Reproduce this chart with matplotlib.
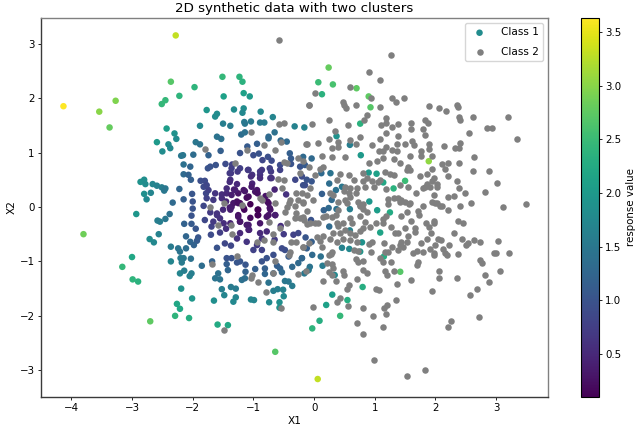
import matplotlib
matplotlib.use("Agg")
import matplotlib.pyplot as plt

class1_points = [
(-1.32,1.79,1.8),(-2.28,3.15,3.3),(-4.13,1.85,3.63),(-3.54,1.75,3.0),(-3.27,1.95,2.95),(-3.37,1.46,2.8),(-2.36,2.30,2.7),(-1.51,2.39,2.45),
(-1.23,2.39,2.4),(-1.18,2.30,2.35),(-1.97,2.20,2.4),(-2.22,2.04,2.4),(-2.45,1.96,2.45),(-2.51,1.89,2.45),(-1.49,2.03,2.1),
(-1.16,2.09,2.1),(-1.06,2.03,2.0),(-1.77,1.78,1.95),(-1.16,1.81,1.8),(-1.18,1.73,1.75),(-0.88,1.75,1.75),
(-1.60,1.71,1.8),(-1.63,1.66,1.8),(-0.68,1.65,1.7),(-1.88,1.49,1.75),(-1.50,1.53,1.6),(-1.38,1.49,1.55),(-1.15,1.56,1.55),
(-1.14,1.53,1.5),(-1.04,1.57,1.55),(-0.89,1.55,1.55),(-0.82,1.55,1.55),(-0.32,1.48,1.65),(-0.16,1.46,1.65),(-2.43,1.44,2.05),
(-2.30,1.35,1.9),(-2.27,1.25,1.8),(-2.59,1.19,2.0),(-2.40,1.15,1.8),(-2.37,1.08,1.75),(-2.50,1.02,1.8),(-1.95,1.19,1.5),
(-1.88,1.15,1.45),(-1.60,1.29,1.45),(-1.53,1.25,1.4),(-1.20,1.33,1.35),(-1.14,1.37,1.4),(-0.65,1.37,1.4),(-0.75,1.29,1.3),
(-0.75,1.26,1.3),(-0.94,1.16,1.15),(-0.55,1.22,1.3),(-0.45,1.20,1.3),(-1.10,1.11,1.1),(-1.22,0.99,1.0),(-1.54,1.03,1.15),
(-2.16,0.95,1.5),(-2.19,0.94,1.5),(-1.99,0.96,1.35),(-1.74,0.95,1.2),(-1.0,0.95,0.95),(-0.91,0.98,1.0),(-0.85,0.86,0.85),
(-0.76,0.92,0.95),(-0.70,0.85,0.9),(-0.40,0.985,1.15),(-0.38,0.89,1.1),(-0.56,0.77,0.9),(-0.38,0.79,1.0),(-2.15,0.78,1.4),
(-2.04,0.74,1.25),(-2.15,0.60,1.3),(-2.07,0.59,1.2),(-2.03,0.50,1.15),(-1.71,0.74,1.0),(-1.75,0.71,1.0),(-1.62,0.77,1.0),
(-1.46,0.79,0.9),(-1.35,0.78,0.8),(-1.22,0.71,0.75),(-1.26,0.65,0.7),(-1.37,0.62,0.7),(-1.09,0.68,0.7),(-1.02,0.59,0.6),
(-0.86,0.68,0.7),(-0.89,0.59,0.6),(-0.71,0.65,0.7),(-0.56,0.68,0.8),(-1.38,0.50,0.6),(-1.87,0.48,0.95),(-1.80,0.48,0.9),
(-1.82,0.37,0.9),(-1.78,0.25,0.85),(-1.77,0.16,0.8),(-1.66,0.13,0.7),(-1.27,0.42,0.5),(-1.02,0.43,0.45),(-0.97,0.28,0.3),
(-0.94,0.31,0.3),(-0.72,0.53,0.6),(-0.46,0.23,0.6),(-0.31,0.50,0.85),(-0.15,0.40,0.9),(-0.12,0.50,1.0),(-0.23,0.74,1.0),
(-2.22,0.33,1.25),(-2.01,0.24,1.05),(-2.15,0.14,1.15),(-2.0,0.10,1.0),(-2.33,0.08,1.3),(-2.86,0.46,1.9),(-2.80,0.50,1.85),
(-2.78,0.42,1.8),(-2.66,0.42,1.7),(-2.59,0.39,1.65),(-2.51,0.36,1.6),(-2.45,0.34,1.5),(-2.47,0.30,1.5),(-2.80,0.24,1.85),
(-2.76,0.14,1.75),(-2.69,0.26,1.7),(-1.52,0.23,0.55),(-1.44,0.25,0.5),(-1.36,0.22,0.4),(-1.25,0.25,0.3),(-1.14,0.29,0.3),
(-1.11,0.17,0.2),(-1.22,0.07,0.2),(-1.36,0.0,0.35),(-1.27,0.10,0.25),(-1.38,-0.05,0.4),(-1.25,-0.15,0.25),(-1.22,-0.27,0.3),
(-1.38,-0.30,0.45),(-1.11,-0.33,0.35),(-1.07,-0.42,0.45),(-1.22,-0.48,0.5),(-1.27,-0.58,0.6),(-1.11,-0.64,0.65),(-0.92,-0.05,0.1),
(-0.92,-0.15,0.15),(-0.75,0.07,0.25),(-0.72,-0.05,0.3),(-0.78,-0.18,0.3),(-0.64,-0.15,0.4),(-0.89,-0.30,0.3),(-0.89,-0.48,0.5),
(-0.78,-0.45,0.5),(-0.86,-0.58,0.6),(-0.94,-0.70,0.7),(-0.86,-0.79,0.8),(-1.0,-0.79,0.8),(-0.26,-0.48,0.85),(-0.34,-0.51,0.8),
(-0.48,-0.79,0.95),(-0.42,-0.91,1.1),(-0.67,-0.88,0.95),(-0.78,-0.94,1.0),(-0.86,-1.0,1.0),(-0.53,-0.76,0.9),(-1.82,0.02,0.85),
(-1.71,-0.10,0.7),(-1.60,-0.15,0.65),(-1.55,-0.21,0.6),(-1.80,-0.24,0.85),(-1.69,-0.36,0.8),(-1.55,-0.47,0.75),(-1.70,-0.51,0.9),
(-1.47,-0.67,0.85),(-1.37,-0.71,0.85),(-1.60,-0.75,1.0),(-2.0,-0.03,1.0),(-2.02,-0.16,1.0),(-2.14,-0.31,1.2),(-2.02,-0.31,1.1),
(-1.95,-0.40,1.05),(-2.11,-0.54,1.25),(-1.91,-0.56,1.05),(-1.93,-0.62,1.1),(-2.04,-0.64,1.25),(-1.98,-0.70,1.2),(-2.36,-0.73,1.55),
(-2.24,-0.76,1.45),(-2.21,-0.82,1.45),(-2.11,-0.76,1.35),(-2.03,-0.95,1.4),(-2.36,-1.0,1.7),(-2.20,-0.94,1.55),(-2.15,-0.94,1.5),
(-2.18,-1.02,1.55),(-2.38,-0.13,1.4),(-2.45,-0.22,1.5),(-2.58,-0.25,1.6),(-2.54,-0.27,1.6),(-2.93,-0.13,1.95),(-2.56,-0.50,1.65),
(-2.71,-0.59,1.8),(-2.64,-0.65,1.75),(-3.0,-0.92,2.2),(-3.16,-1.10,2.45),(-2.99,-1.33,2.4),(-2.90,-1.37,2.35),(-3.80,-0.50,2.85),
(-2.70,-2.10,2.75),(-1.85,-1.08,1.35),(-1.68,-1.0,1.2),(-1.44,-0.94,1.0),(-1.36,-0.94,1.0),(-1.27,-1.02,1.05),(-1.22,-1.0,1.05),
(-1.44,-1.05,1.15),(-1.42,-1.16,1.25),(-1.13,-1.06,1.05),(-1.13,-1.19,1.2),(-0.97,-1.14,1.15),(-0.81,-1.13,1.15),(-0.81,-1.23,1.25),
(-0.67,-1.22,1.25),(-0.61,-1.08,1.15),(-0.56,-1.13,1.2),(-0.53,-1.2,1.3),(-0.36,-1.1,1.3),(-0.26,-1.03,1.3),(-0.20,-0.94,1.3),
(-2.21,-1.22,1.7),(-2.14,-1.17,1.6),(-2.05,-1.27,1.65),(-2.02,-1.22,1.6),(-1.63,-1.31,1.45),(-1.58,-1.22,1.4),(-1.55,-1.33,1.45),
(-1.19,-1.34,1.4),(-1.14,-1.31,1.35),(-0.75,-1.39,1.45),(-0.48,-1.36,1.5),(-0.42,-1.37,1.5),(-0.36,-1.45,1.55),(-2.19,-1.50,1.9),
(-1.52,-1.51,1.6),(-1.37,-1.47,1.55),(-1.29,-1.50,1.55),(-1.48,-1.62,1.7),(-0.67,-1.54,1.6),(-0.60,-1.51,1.6),(-0.51,-1.52,1.65),
(-0.50,-1.64,1.75),(-2.01,-1.68,1.95),(-1.29,-1.66,1.7),(-1.33,-1.74,1.75),(-1.65,-1.72,1.85),(-1.04,-1.70,1.7),(-0.99,-1.71,1.7),
(-0.74,-1.75,1.75),(-0.57,-1.75,1.85),(-0.57,-1.85,1.9),(-2.26,-1.78,2.2),(-2.21,-1.87,2.2),(-2.29,-2.0,2.4),(-2.06,-2.04,2.3),
(-1.59,-2.16,2.25),(-1.42,-2.17,2.2),(-0.64,-2.66,2.7),
(0.24,2.56,2.8),(0.07,2.29,2.5),(0.31,2.25,2.6),(0.70,2.18,2.75),(0.13,2.07,2.35),(0.90,2.03,2.75),(0.93,1.83,2.7),(0.76,1.53,2.35),
(0.37,1.30,1.9),(0.77,0.95,2.0),(1.89,0.84,3.05),(0.59,1.14,1.6),(-0.04,0.89,1.3),(-0.18,0.92,1.3),(0.12,0.62,1.3),(0.27,0.62,1.45),
(0.25,0.43,1.35),(0.46,0.37,1.5),(0.36,0.31,1.4),(0.13,0.24,1.15),(-0.04,0.47,1.05),(-0.18,0.40,0.95),(0.90,0.63,2.0),(1.03,0.61,2.1),
(1.14,0.45,2.2),(1.31,0.34,2.35),(1.50,0.48,2.5),(0.91,0.10,1.95),(0.59,-0.04,1.6),(0.29,0.13,1.3),(0.24,-0.02,1.3),(1.25,-0.10,2.25),
(1.04,-0.06,2.05),(0.37,-0.04,1.4),(0.16,-0.06,1.2),(0.25,-0.36,1.3),(-0.05,-0.24,1.0),(1.09,-0.47,2.15),(0.59,-0.43,1.65),(0.79,-0.65,1.9),
(0.46,-0.75,1.65),(0.58,-0.77,1.75),(0.76,-0.82,1.95),(-0.14,-0.56,1.05),(-0.04,-0.64,1.15),(-0.12,-0.76,1.15),(-0.20,-0.94,1.25),
(-0.03,-0.88,1.3),(0.11,-0.91,1.4),(0.14,-1.08,1.55),(-0.07,-1.1,1.45),(-0.09,-1.16,1.5),(-0.16,-1.22,1.5),(0.34,-1.25,1.75),(1.15,-0.91,2.3),
(1.42,-1.19,2.7),(0.80,-1.47,2.3),(0.30,-1.61,2.05),(0.55,-1.71,2.3),(0.20,-1.80,2.1),(0.43,-2.0,2.45),(0.09,-2.09,2.3),(-0.03,-2.23,2.4),
(0.06,-3.16,3.3),(-0.15,0.77,1.1),(-0.20,0.56,0.9),
(-1.05,0.05,0.1),(-1.15,-0.05,0.18),(-1.05,-0.2,0.2),(-0.8,0.2,0.28),(-0.65,0.32,0.45),(-1.32,0.32,0.42),(-1.45,0.1,0.47),(-1.5,-0.05,0.52),
(-0.55,-0.35,0.58),(-0.65,-0.6,0.72),(-0.5,-0.5,0.72),(-1.45,-0.4,0.58),
(-1.39,0.62,0.7),(-1.36,0.71,0.75),(-1.08,0.68,0.7),(-1.04,0.56,0.55),(-0.89,0.65,0.65),(-0.89,0.53,0.55),(-0.73,0.71,0.75),(-0.70,0.53,0.6),
(-1.39,0.46,0.55),(-1.44,0.34,0.55),(-1.30,0.31,0.4),(-1.16,0.31,0.32),(-1.03,0.37,0.35),(-0.93,0.25,0.25),(-1.08,0.19,0.2),(-1.33,0.07,0.32),
(-1.39,-0.01,0.38),(-1.25,0.07,0.25),(-1.16,-0.02,0.15),(-0.93,-0.05,0.1),(-0.93,-0.15,0.12),(-0.77,0.10,0.22),(-0.73,-0.02,0.27),(-0.75,-0.15,0.28),
(-0.64,-0.15,0.38),(-1.25,-0.18,0.3),(-1.22,-0.27,0.32),(-1.08,-0.33,0.35),(-1.08,-0.42,0.42),(-1.49,-0.30,0.55),(-1.66,-0.27,0.7),(-1.60,-0.12,0.62),
(-1.52,0.16,0.55),(-1.63,0.25,0.65),(-1.74,0.31,0.78),(-1.77,0.40,0.85),
]

class2_points = [
(1.26,2.79),(0.91,2.48),(1.09,2.33),(0.59,2.21),(0.02,2.09),(1.29,2.01),(1.35,1.93),(1.48,2.0),(0.94,2.01),(0.47,1.92),(0.50,1.87),(0.53,1.81),
(0.69,1.87),(1.08,1.84),(-0.08,1.88),(1.90,1.86),(2.06,1.81),(2.17,1.76),(2.36,1.87),(2.37,1.84),(2.62,1.65),(2.39,1.65),(2.41,1.59),(3.20,1.65),
(0.87,1.69),(0.83,1.60),(1.18,1.63),(1.19,1.55),(1.11,1.50),(1.29,1.47),(1.38,1.52),(1.60,1.55),(1.59,1.43),(1.83,1.59),(1.88,1.54),(1.79,1.44),
(1.82,1.33),(0.24,1.59),(-0.03,1.52),(0.56,1.50),(0.34,1.40),(2.85,1.45),(2.94,1.45),(2.56,1.35),(3.34,1.24),(1.18,1.35),(1.39,1.30),(0.76,1.29),
(1.09,1.24),(0.24,1.24),(0.59,1.23),(0.69,1.16),(-0.13,1.16),(0.06,1.18),(0.40,1.19),(0.40,1.10),(0.29,1.08),(0.95,1.13),(1.36,1.16),(1.50,1.16),
(1.61,1.21),(1.64,1.14),(1.89,1.15),(1.90,1.06),(2.14,1.12),(2.32,1.09),(2.41,1.17),(2.39,1.09),(1.07,1.02),(1.19,1.11),(1.14,1.03),(1.28,1.05),
(1.36,1.02),(0.13,0.94),(0.29,0.92),(0.51,0.92),(1.32,0.88),(1.14,0.89),(1.03,0.85),(0.91,0.80),(1.58,0.94),(1.77,1.02),(1.77,0.94),(1.94,0.94),
(2.64,0.92),(1.41,0.80),(2.20,0.81),(2.10,0.79),(2.39,0.81),(1.55,0.74),(1.53,0.68),(1.58,0.68),(0.15,0.74),(0.10,0.69),(1.94,0.69),(2.16,0.69),
(2.62,0.66),(2.89,0.66),(0.80,0.62),(1.17,0.64),(1.25,0.61),(1.32,0.59),(0.57,0.59),(0.43,0.61),(0.38,0.50),(0.65,0.50),(1.86,0.61),(1.74,0.56),
(2.21,0.57),(1.97,0.53),(1.94,0.47),(2.02,0.43),(1.86,0.43),(2.35,0.48),(3.01,0.44),(0.87,0.53),(0.95,0.47),(0.81,0.47),(1.09,0.50),(0.98,0.37),
(0.84,0.37),(1.06,0.45),(1.42,0.41),(1.54,0.37),(1.18,0.33),(0.51,0.37),(0.59,0.34),(0.50,0.30),(0.57,0.25),(0.71,0.34),(0.69,0.25),(2.39,0.34),
(2.82,0.28),(1.68,0.25),(1.79,0.34),(1.83,0.37),(1.91,0.37),(2.02,0.37),(1.97,0.22),(2.21,0.19),(2.31,0.21),(2.49,0.25),(1.22,0.15),(1.31,0.16),
(1.39,0.16),(1.44,0.13),(1.50,0.10),(1.57,0.06),(0.59,0.19),(0.73,0.10),(0.76,0.01),(0.81,0.06),(1.94,0.10),(2.02,0.07),(2.08,0.01),(2.41,0.01),
(2.59,0.07),(3.11,0.0),(3.49,0.05),(0.32,0.22),(0.26,0.25),(0.40,0.10),(0.51,0.13),(0.02,0.59),(-0.07,0.34),(-0.18,0.85),(-0.01,0.13),(-0.12,0.22),
(-0.18,0.10),(0.55,0.08),(0.75,0.04),(0.81,-0.03),(0.88,-0.10),(0.75,-0.16),(1.22,0.05),(1.42,0.10),(1.58,0.07),(1.79,0.01),(1.72,-0.07),(1.73,-0.15),
(1.99,0.07),(2.10,0.01),(2.20,-0.06),(1.53,-0.10),(1.44,-0.16),(1.18,-0.16),(1.13,-0.23),(1.13,-0.30),(1.02,-0.30),(1.27,-0.36),(1.60,-0.25),(1.85,-0.30),
(1.90,-0.37),(1.98,-0.25),(1.98,-0.30),(2.38,-0.26),(2.45,-0.30),(0.84,-0.27),(0.92,-0.36),(0.59,-0.21),(0.62,-0.30),(0.48,-0.29),(0.37,-0.30),(0.40,-0.35),
(0.36,-0.15),(0.40,-0.06),(0.20,-0.17),(0.29,-0.19),(0.15,-0.19),(0.07,-0.29),(0.02,-0.30),(-0.07,-0.30),(-0.17,-0.24),(-0.19,-0.18),(-0.12,-0.07),
(0.05,-0.56),(0.15,-0.54),(0.10,-0.62),(0.13,-0.74),(-0.19,-0.73),(0.32,-0.48),(0.43,-0.48),(0.51,-0.42),(0.59,-0.48),(0.68,-0.51),(0.76,-0.45),(0.81,-0.39),
(0.48,-0.58),(0.59,-0.61),(0.37,-0.64),(0.26,-0.58),(0.70,-0.64),(0.90,-0.68),(0.96,-0.65),(0.94,-0.82),(0.65,-0.79),(0.73,-0.80),(0.29,-0.82),(0.24,-0.88),
(1.15,-0.67),(1.28,-0.74),(1.34,-0.47),(1.39,-0.48),(1.50,-0.39),(1.66,-0.39),(1.66,-0.46),(1.55,-0.54),(1.53,-0.64),(1.43,-0.64),(1.42,-0.70),(1.47,-0.73),
(1.39,-0.79),(1.86,-0.58),(1.77,-0.67),(1.92,-0.47),(2.05,-0.58),(2.09,-0.61),(2.0,-0.69),(2.23,-0.70),(2.13,-0.77),(2.16,-0.85),(2.19,-0.89),(2.31,-0.47),
(2.44,-0.58),(2.50,-0.69),(2.54,-0.67),(2.64,-0.60),(2.73,-0.64),(3.03,-0.63),(2.96,-0.84),(3.0,-0.85),(3.21,-0.85),(2.37,-0.86),(1.91,-0.78),(1.97,-0.85),
(1.98,-0.89),(1.79,-0.82),(1.69,-0.80),(1.63,-0.85),(1.22,-0.83),(1.17,-0.82),(1.09,-0.94),(1.14,-1.02),(1.26,-1.02),(0.69,-0.96),(0.73,-1.02),(0.81,-1.0),
(1.72,-1.02),(1.69,-1.06),(2.73,-0.97),(2.76,-1.03),(0.28,-0.87),(0.21,-1.03),(0.30,-1.05),(0.31,-1.13),(0.24,-1.20),(0.29,-1.25),(0.47,-1.17),(0.50,-1.25),
(0.81,-1.16),(0.88,-1.21),(1.17,-1.18),(1.21,-1.25),(1.31,-1.17),(2.06,-1.17),(2.06,-1.30),(2.35,-1.30),(2.82,-1.25),(3.07,-1.18),(2.88,-1.38),(1.59,-1.35),
(1.37,-1.41),(0.71,-1.33),(0.15,-1.36),(0.36,-1.36),(0.57,-1.43),(0.54,-1.50),(1.02,-1.50),(1.07,-1.53),(1.94,-1.55),(2.68,-1.50),(2.57,-1.61),(1.35,-1.70),
(0.42,-1.68),(0.37,-1.74),(0.56,-1.82),(-0.02,-1.83),(0.81,-1.85),(1.21,-1.80),(1.16,-1.85),(1.18,-1.96),(0.97,-2.0),(2.25,-2.09),(2.21,-2.20),(2.71,-2.03),
(0.70,-2.13),(1.13,-2.21),(0.81,-2.34),(0.98,-2.81),(1.53,-3.11),(1.83,-3.0),
(-0.58,3.06),(-0.09,1.88),(-0.58,1.52),(-0.49,1.54),(-1.04,1.38),(-0.12,1.16),(-0.54,1.19),(-0.83,1.13),(-1.79,1.06),(-1.11,1.05),(-0.65,1.05),(-0.27,0.89),
(-0.49,0.83),(-0.45,0.80),(-1.30,0.80),(-0.23,0.63),(-0.09,0.74),(-0.59,0.51),(-0.49,0.50),(-0.53,0.34),(-0.74,0.24),(-0.89,0.16),(-0.85,0.12),(-0.40,0.13),
(-0.29,0.25),(-0.20,0.25),(-0.26,0.13),(-0.18,0.07),(-0.45,0.0),(-1.48,0.08),(-1.19,0.04),(-0.64,0.07),(-1.71,0.0),(-0.42,0.07),(-0.48,-0.09),(-0.31,0.01),
(-0.29,-0.12),(-0.23,-0.21),(-0.31,-0.21),(-0.45,-0.29),(-0.12,-0.31),(-1.37,-0.33),(-1.58,-0.33),(-0.75,-0.27),(-1.35,-0.50),(-0.56,-0.39),(-0.67,-0.50),
(-0.82,-0.61),(-0.94,-0.64),(-0.67,-0.65),(-0.38,-0.64),(-0.29,-0.65),(-0.40,-0.82),(-0.41,-0.88),(-0.18,-0.73),(-0.09,-0.67),(-1.27,-0.90),(-0.65,-0.99),
(-1.68,-1.05),(-0.27,-1.23),(-0.14,-1.17),(-1.03,-1.25),(-1.04,-1.31),(-0.93,-1.38),(-0.79,-1.57),(-0.54,-1.85),(-1.49,-2.26),(-0.68,-1.21),
]

title = "2D synthetic data with two clusters"
xlabel = "X1"
ylabel = "X2"
cbar_label = "response value"
class_names = ["Class 1", "Class 2"]

x1 = [p[0] for p in class1_points]
y1 = [p[1] for p in class1_points]
resp = [p[2] for p in class1_points]
x2 = [p[0] for p in class2_points]
y2 = [p[1] for p in class2_points]

plt.rcParams["font.family"] = "DejaVu Sans"
fig = plt.figure(figsize=(6.4, 4.3), dpi=100)
ax = fig.add_axes([41/640, 1-397/430, (548-41)/640, (397-18)/430])
sc = ax.scatter(x1, y1, c=resp, cmap="viridis", s=22, linewidths=0, vmin=0.1, vmax=3.63, label=class_names[0])
ax.scatter(x2, y2, c="#7f7f7f", s=22, linewidths=0, label=class_names[1])
ax.set_xlim(-4.50, 3.855)
ax.set_ylim(-3.49, 3.47)
ax.set_title(title, fontsize=9.6, pad=4.5)
ax.set_xlabel(xlabel, fontsize=7.6, labelpad=2)
ax.set_ylabel(ylabel, fontsize=7.6, labelpad=2)
ax.tick_params(labelsize=7.4, length=2.5, width=0.6, pad=2)
for side, col in [("left", "#3a3a3a"), ("bottom", "#3a3a3a"), ("top", "#808080"), ("right", "#808080")]:
    ax.spines[side].set_linewidth(1.0)
    ax.spines[side].set_color(col)
ax.legend(loc="upper right", fontsize=7.6, frameon=True, borderpad=0.4, handletextpad=1.0, labelspacing=0.9)

cax = fig.add_axes([581/640, 1-397/430, 18/640, (397-18)/430])
cb = fig.colorbar(sc, cax=cax)
cb.set_label(cbar_label, fontsize=7.4, labelpad=3)
cb.ax.tick_params(labelsize=7.4, length=2.5, width=0.6, pad=2)
cb.outline.set_linewidth(0.8)
fig.savefig("out.png", dpi=100)
